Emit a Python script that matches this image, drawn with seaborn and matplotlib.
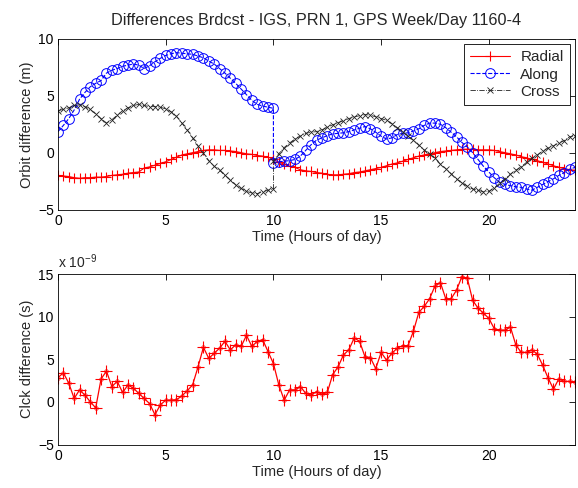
import numpy as np
import pandas as pd
import matplotlib
matplotlib.use("Agg")
import matplotlib.pyplot as plt
import seaborn as sns

# ---- data ----
# orbit differences, sampled every 15 min; two ephemeris segments (jump at 10 h)
radial_a = [-2.0, -2.05, -2.1, -2.2, -2.25, -2.2, -2.2, -2.15, -2.15, -2.1,
            -2.0, -1.95, -1.9, -1.8, -1.75, -1.7, -1.35, -1.25, -1.1, -0.95,
            -0.8, -0.6, -0.4, -0.2, -0.1, 0.0, 0.1, 0.2, 0.25, 0.25,
            0.2, 0.2, 0.15, 0.1, 0.0, -0.1, -0.15, -0.25, -0.3, -0.4,
            -0.55]
radial_b = [-0.6, -0.85, -1.0, -1.2, -1.3, -1.5, -1.6, -1.65, -1.75, -1.8,
            -1.9, -1.95, -1.95, -1.9, -1.85, -1.75, -1.7, -1.6, -1.5, -1.4,
            -1.3, -1.15, -1.0, -0.9, -0.75, -0.6, -0.45, -0.3, -0.2, -0.1,
            0.0, 0.1, 0.15, 0.2, 0.25, 0.3, 0.3, 0.3, 0.25, 0.25,
            0.25, 0.2, 0.1, 0.0, -0.1, -0.2, -0.35, -0.45, -0.6, -0.7,
            -0.85, -1.0, -1.15, -1.3, -1.4, -1.5, -1.55]
along_a = [1.85, 2.4, 3.0, 3.75, 4.7, 5.3, 5.8, 6.1, 6.35, 7.0,
           7.25, 7.4, 7.6, 7.7, 7.8, 7.7, 7.4, 7.65, 8.0, 8.3,
           8.55, 8.7, 8.8, 8.75, 8.7, 8.65, 8.5, 8.35, 8.05, 7.8,
           7.4, 7.0, 6.55, 6.1, 5.6, 5.1, 4.6, 4.25, 4.1, 4.0,
           3.9]
along_b = [-0.9, -0.8, -0.75, -0.7, -0.6, -0.3, 0.2, 0.7, 1.1, 1.3,
           1.5, 1.65, 1.7, 1.75, 1.85, 2.0, 2.15, 2.3, 2.1, 1.8,
           1.45, 1.2, 1.3, 1.6, 1.7, 1.75, 1.9, 2.1, 2.4, 2.6,
           2.6, 2.5, 2.2, 1.8, 1.4, 0.9, 0.5, 0.0, -0.6, -1.2,
           -1.7, -2.2, -2.6, -2.8, -2.9, -3.0, -3.05, -3.2, -3.3, -3.05,
           -2.8, -2.55, -2.3, -2.0, -1.75, -1.45, -1.3]
cross_a = [3.7, 3.8, 3.95, 4.15, 4.2, 4.05, 3.8, 3.4, 3.0, 2.6,
           2.9, 3.3, 3.7, 3.95, 4.15, 4.25, 4.15, 4.05, 4.05, 4.0,
           3.85, 3.6, 3.2, 2.6, 2.0, 1.3, 0.6, -0.05, -0.7, -1.2,
           -1.55, -2.0, -2.4, -2.85, -3.15, -3.4, -3.55, -3.6, -3.45, -3.3,
           -3.2]
cross_b = [-0.7, -0.1, 0.45, 0.85, 1.2, 1.45, 1.7, 1.8, 1.85, 2.0,
           2.25, 2.45, 2.65, 2.8, 3.0, 3.15, 3.25, 3.35, 3.3, 3.15,
           3.0, 2.85, 2.55, 2.2, 1.85, 1.45, 1.1, 0.65, 0.25, -0.15,
           -0.5, -1.0, -1.4, -1.85, -2.3, -2.65, -2.95, -3.2, -3.3, -3.45,
           -3.4, -3.1, -2.7, -2.3, -1.9, -1.55, -1.25, -0.85, -0.5, -0.2,
           0.15, 0.4, 0.6, 0.85, 1.05, 1.4, 1.5]
# clock difference in units of 1e-9 s, every 15 min
clock_ns = [2.85, 3.4, 2.2, 0.4, 1.4, 0.8, 0.0, -0.7, 2.7, 3.6,
            1.8, 2.4, 1.1, 2.0, 1.6, 1.0, 0.4, -0.2, -1.5, -0.35,
            0.2, 0.2, 0.25, 0.7, 1.3, 2.0, 4.1, 6.4, 5.1, 5.7,
            6.3, 7.1, 6.1, 6.7, 6.5, 7.8, 6.5, 7.1, 7.3, 5.9,
            4.5, 2.0, 0.2, 1.4, 1.4, 1.8, 1.0, 0.8, 1.2, 0.9,
            1.1, 3.2, 4.1, 5.5, 6.1, 7.5, 7.1, 5.3, 5.2, 3.9,
            5.8, 4.9, 5.7, 6.3, 6.6, 6.6, 8.3, 10.5, 11.2, 12.1,
            13.6, 14.0, 12.1, 12.1, 13.1, 14.7, 14.5, 11.9, 11.0, 10.4,
            9.8, 8.6, 8.4, 8.4, 8.8, 6.7, 5.8, 5.8, 6.1, 5.6,
            4.3, 2.8, 1.5, 2.7, 2.4, 2.4, 2.3]

hours_a = np.arange(len(radial_a)) * 0.25
hours_b = 10.0 + np.arange(len(radial_b)) * 0.25
hours_c = np.arange(len(clock_ns)) * 0.25
hours_orb = np.concatenate([hours_a, hours_b])

orbit = pd.DataFrame({
    "hour": hours_orb,
    "Radial": radial_a + radial_b,
    "Along": along_a + along_b,
    "Cross": cross_a + cross_b,
})
clock = pd.DataFrame({"hour": hours_c, "clk": clock_ns})

# ---- style ----
sns.set_style("white")
plt.rcParams["font.family"] = ["Liberation Sans", "DejaVu Sans"]
plt.rcParams["mathtext.fontset"] = "custom"
plt.rcParams["mathtext.rm"] = "Liberation Sans"
plt.rcParams["mathtext.it"] = "Liberation Sans"
FS = 10

fig = plt.figure(figsize=(5.78, 4.88), dpi=100)
fig.patch.set_facecolor("white")
ax1 = fig.add_axes([58 / 578, 1 - 209.5 / 488, 517 / 578, 170.5 / 488])
ax2 = fig.add_axes([58 / 578, 1 - 444.5 / 488, 517 / 578, 170.5 / 488])

styles = {
    "Radial": dict(color="#ff0000", marker="+", linestyle="-", markersize=7.5,
                   markeredgewidth=0.8, linewidth=0.8),
    "Along": dict(color="#0000ff", marker="o", linestyle="--", markersize=7,
                  markeredgewidth=0.7, linewidth=0.8, markerfacecolor="none"),
    "Cross": dict(color="#222222", marker="x", linestyle="-.", markersize=4,
                  markeredgewidth=0.6, linewidth=0.6),
}
for name in ["Radial", "Along", "Cross"]:
    st = styles[name]
    sns.lineplot(data=orbit, x="hour", y=name, ax=ax1, estimator=None, sort=False,
                 label=name, markeredgecolor=st["color"], **st)

sns.lineplot(data=clock, x="hour", y="clk", ax=ax2, estimator=None, sort=False,
             color="#ff0000", marker="+", linestyle="-", markersize=8,
             markeredgewidth=0.8, linewidth=0.9, markeredgecolor="#ff0000")
sns.lineplot(data=clock, x="hour", y="clk", ax=ax2, estimator=None, sort=False,
             color="#ff0000", marker="o", linestyle="none", markersize=2.6,
             markeredgewidth=0.5, markerfacecolor="none", markeredgecolor="#ff0000")

for ax in (ax1, ax2):
    ax.set_xlim(0, 24)
    ax.set_xticks([0, 5, 10, 15, 20])
    ax.tick_params(direction="in", top=True, right=True, length=4, width=0.6,
                   labelsize=FS, colors="black", pad=3)
    for sp in ax.spines.values():
        sp.set_visible(True)
        sp.set_color("black")
        sp.set_linewidth(0.6)
    ax.set_xlabel("Time (Hours of day)", fontsize=10.5, labelpad=2)
    ax.set_facecolor("white")

ax1.set_ylim(-5, 10)
ax1.set_yticks([-5, 0, 5, 10])
ax1.set_ylabel("Orbit difference (m)", fontsize=10.5, labelpad=3)
ax1.set_title("Differences Brdcst - IGS, PRN 1, GPS Week/Day 1160-4",
              fontsize=11.7, pad=10)

ax2.set_ylim(-5, 15)
ax2.set_yticks([-5, 0, 5, 10, 15])
ax2.set_ylabel("Clck difference (s)", fontsize=10.5, labelpad=3)
ax2.text(0.0, 1.015, r"x 10$^{-9}$", transform=ax2.transAxes, ha="left",
         va="bottom", fontsize=FS)

leg = ax1.legend(loc="upper right", fontsize=11, frameon=True, fancybox=False,
                 edgecolor="black", framealpha=1, borderpad=0.4,
                 handlelength=2.6, handletextpad=0.7, labelspacing=0.2,
                 borderaxespad=0.35)
leg.get_frame().set_linewidth(0.6)

fig.savefig("out.png", dpi=100, facecolor="white")
